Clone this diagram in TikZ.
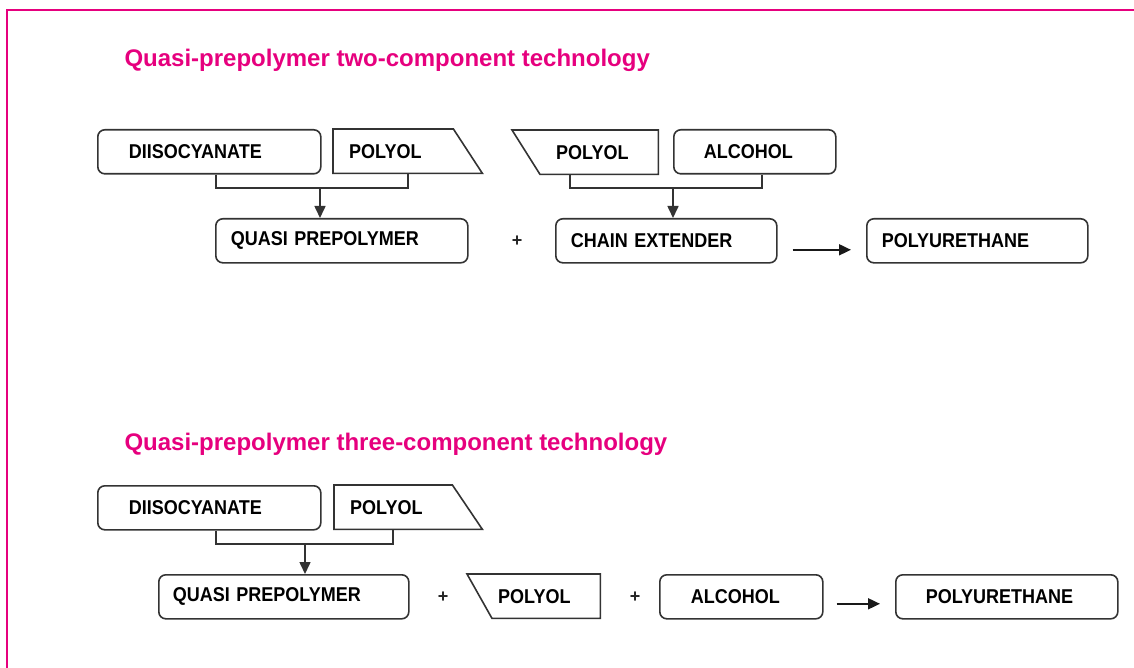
\documentclass[tikz,border=0pt]{standalone}
\usepackage{fontspec}
\setmainfont{Liberation Sans}
\newfontfamily\boxfont[FakeStretch=0.9]{Liberation Sans}
\usetikzlibrary{arrows.meta}
\definecolor{brand}{HTML}{E6007E}

\begin{document}
\begin{tikzpicture}[x=1pt, y=-1pt]
	\tikzstyle{blk} = [anchor=north west, minimum height=44pt, inner ysep=0pt, align=left, text=black, font={\boxfont\bfseries\fontsize{20}{22}\selectfont}];
	\tikzstyle{box} = [blk, draw=black!80, line width=1.6pt, rounded corners=7pt];
	\tikzstyle{shell} = [draw=black!80, line width=1.6pt, line join=miter];
	\tikzstyle{heading} = [anchor=base west, text=brand, font={\bfseries\fontsize{24}{28}\selectfont}];
	\tikzstyle{plus} = [font={\bfseries\fontsize{18}{18}\selectfont}, text=black!85];
	\tikzstyle{feed} = [draw=black!80, line width=1.6pt];
	\tikzstyle{into} = [feed, -{Triangle[length=12pt, width=11pt]}];
	\tikzstyle{react} = [draw=black!90, line width=1.8pt, -{Triangle[length=12pt, width=11pt]}];

	\useasboundingbox (0,0) rectangle (1134,668);
	\draw[brand, line width=1.2pt] (7,668) -- (7,10) -- (1134,10);

	% two-component
	\node[heading] (t1) at (121,67) {Quasi-prepolymer two-component technology};

	\node[box, text width=161pt, inner xsep=31pt] (diso1) at (97,129) {DIISOCYANATE};
	\node[blk, text width=88pt, inner xsep=16pt] (pol1) at (333,129) {POLYOL};
	\draw[shell] (pol1.north west) -- (pol1.north east) -- ([xshift=29pt]pol1.south east) -- (pol1.south west) -- cycle;

	\node[blk, text width=86pt, inner xsep=16pt] (pol2) at (540,130) {POLYOL};
	\draw[shell] (pol2.south west) -- ([xshift=-28pt]pol2.north west) -- (pol2.north east) -- (pol2.south east) -- cycle;
	\node[box, text width=102pt, inner xsep=30pt] (alc1) at (673,129) {ALCOHOL};

	\node[box, text width=222pt, inner xsep=15pt] (qp1) at (215,218) {QUASI PREPOLYMER};
	\node[plus] (p1) at (517,241) {+};
	\node[box, text width=191pt, inner xsep=15pt] (chain) at (555,218) {CHAIN EXTENDER};
	\node[box, text width=191pt, inner xsep=15pt] (pu1) at (866,218) {POLYURETHANE};

	\coordinate (j1) at (320,188);
	\coordinate (j2) at (673,188);
	\draw[feed] ([xshift=119pt]diso1.south west) |- (j1) -| ([xshift=75pt]pol1.south west);
	\draw[into] (j1) -- (j1 |- qp1.north);
	\draw[feed] ([xshift=30pt]pol2.south west) |- (j2) -| ([xshift=89pt]alc1.south west);
	\draw[into] (j2) -- (j2 |- chain.north);
	\draw[react] ([shift={(15,9)}]chain.east) -- ([shift={(-15,9)}]pu1.west);

	% three-component
	\node[heading] (t2) at (121,450) {Quasi-prepolymer three-component technology};

	\node[box, text width=161pt, inner xsep=31pt] (diso2) at (97,485) {DIISOCYANATE};
	\node[blk, text width=86pt, inner xsep=16pt] (pol3) at (334,485) {POLYOL};
	\draw[shell] (pol3.north west) -- (pol3.north east) -- ([xshift=30pt]pol3.south east) -- (pol3.south west) -- cycle;

	\node[box, text width=222pt, inner xsep=14pt] (qp2) at (158,574) {QUASI PREPOLYMER};
	\node[plus] (p2) at (443,597) {+};
	\node[blk, text width=96pt, inner xsep=6pt] (pol4) at (492,574) {POLYOL};
	\draw[shell] (pol4.south west) -- ([xshift=-25pt]pol4.north west) -- (pol4.north east) -- (pol4.south east) -- cycle;
	\node[plus] (p3) at (635,597) {+};
	\node[box, text width=101pt, inner xsep=31pt] (alc2) at (659,574) {ALCOHOL};
	\node[box, text width=162pt, inner xsep=30pt] (pu2) at (895,574) {POLYURETHANE};

	\coordinate (j3) at (305,544);
	\draw[feed] ([xshift=119pt]diso2.south west) |- (j3) -| ([xshift=59pt]pol3.south west);
	\draw[into] (j3) -- (j3 |- qp2.north);
	\draw[react] ([shift={(13,7)}]alc2.east) -- ([shift={(-15,7)}]pu2.west);
\end{tikzpicture}
\end{document}
